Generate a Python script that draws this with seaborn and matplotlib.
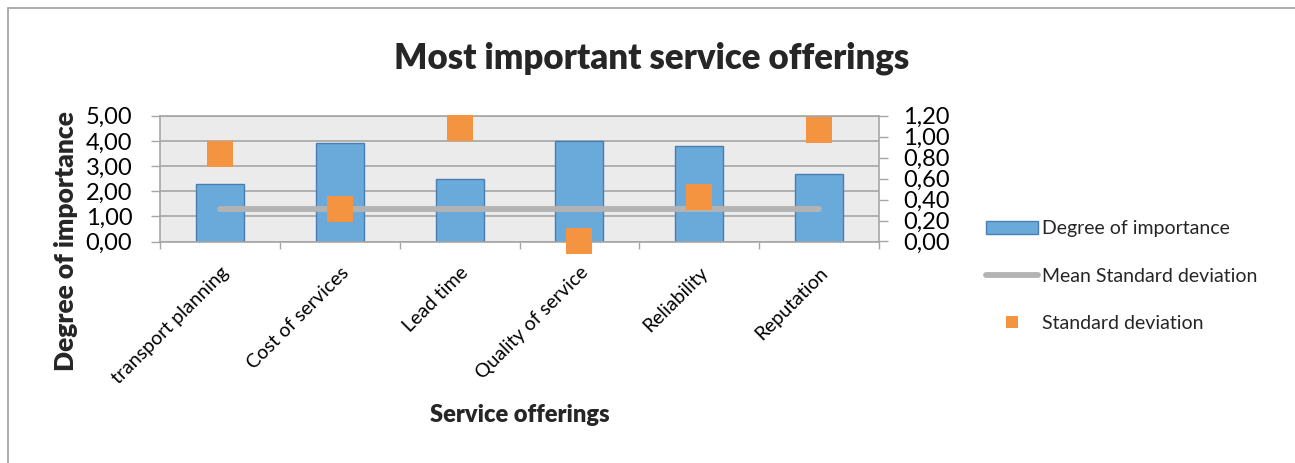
import numpy as np
import pandas as pd
import matplotlib
matplotlib.use("Agg")
import matplotlib.pyplot as plt
from matplotlib.lines import Line2D
from matplotlib.patches import Patch
from matplotlib.ticker import FuncFormatter, FixedLocator
import seaborn as sns

# --- data -------------------------------------------------------------
services = ["transport planning", "Cost of services", "Lead time",
            "Quality of service", "Reliability", "Reputation"]
importance = [2.30, 3.90, 2.50, 4.00, 3.80, 2.70]
std_dev = [0.83, 0.31, 1.08, 0.00, 0.42, 1.06]
mean_std_dev = [0.31, 0.31, 0.31, 0.31, 0.31, 0.31]
left_ticks = [0, 1, 2, 3, 4, 5]
right_ticks = [0.0, 0.2, 0.4, 0.6, 0.8, 1.0, 1.2]

df = pd.DataFrame({"service": services, "importance": importance,
                   "sd": std_dev, "mean_sd": mean_std_dev})
df["pos"] = np.arange(len(df))

# --- style ------------------------------------------------------------
sns.set_style("white")
plt.rcParams["font.family"] = ["Lato", "DejaVu Sans"]

BLUE = "#6aaadb"
BLUE_EDGE = "#4a7eb3"
ORANGE = "#f59440"
GREY_LINE = "#b3b3b3"
GRID = "#a6a6a6"
PANEL = "#ebebeb"

W, H = 1295, 463
fig = plt.figure(figsize=(W / 100, H / 100), dpi=100)
ax = fig.add_axes([160 / W, 1 - 241.5 / H, (879 - 160) / W, (241.5 - 115.7) / H])
ax.set_facecolor(PANEL)

sns.barplot(data=df, x="service", y="importance", ax=ax, color=BLUE,
            saturation=1, width=0.4, edgecolor=BLUE_EDGE, linewidth=1.0,
            zorder=2)
ax.set_xlim(-0.5, len(services) - 0.5)
ax.set_ylim(0, 5)
ax.set_axisbelow(True)
ax.yaxis.set_major_locator(FixedLocator(left_ticks))
ax.grid(axis="y", color=GRID, linewidth=1.2)
ax.grid(axis="x", visible=False)

comma = FuncFormatter(lambda v, p: f"{v:.2f}".replace(".", ","))
ax.yaxis.set_major_formatter(comma)
ax.tick_params(axis="y", which="major", left=True, length=6.5, width=1,
               color=GRID, pad=13.5, labelsize=17, labelcolor="black")

# categories centred between boundary tick marks
ax.set_xticks(df["pos"])
ax.set_xticklabels(services, rotation=45, ha="right", rotation_mode="anchor",
                   fontsize=14)
ax.set_xticks(np.arange(-0.5, len(services)), minor=True)
ax.tick_params(axis="x", which="major", length=0, pad=16, labelcolor="black")
ax.tick_params(axis="x", which="minor", bottom=True, length=5, width=1,
               color=GRID)
ax.set_xlabel("")
ax.set_ylabel("")
for s in ax.spines.values():
    s.set_color(GRID)
    s.set_linewidth(1.2)

# secondary axis: standard deviations
ax2 = ax.twinx()
ax2.set_ylim(0, 1.2)
ax2.yaxis.set_major_locator(FixedLocator(right_ticks))
ax2.yaxis.set_major_formatter(comma)
ax2.tick_params(axis="y", right=True, length=6.5, width=1, color=GRID,
                pad=11, labelsize=17, labelcolor="black")
for s in ax2.spines.values():
    s.set_visible(False)
ax2.grid(False)

sns.lineplot(data=df, x="pos", y="mean_sd", ax=ax2, color=GREY_LINE,
             linewidth=4.2, solid_capstyle="round", legend=False, zorder=3)
sns.scatterplot(data=df, x="pos", y="sd", ax=ax2, marker="s", s=350,
                color=ORANGE, linewidth=0, legend=False, zorder=4,
                clip_on=False)
ax2.set_xlabel("")
ax2.set_ylabel("")
ax2.set_xlim(-0.5, len(services) - 0.5)

# titles
fig.text(652 / W, 1 - 58 / H, "Most important service offerings",
         ha="center", va="center", fontsize=25, fontweight="heavy")
fig.text(520 / W, 1 - 415 / H, "Service offerings",
         ha="center", va="center", fontsize=17, fontweight="heavy")
fig.text(66 / W, 1 - 241 / H, "Degree of importance", rotation=90,
         ha="center", va="center", fontsize=19, fontweight="heavy")

# legend
handles = [
    Patch(facecolor=BLUE, edgecolor=BLUE_EDGE, linewidth=1.0),
    Line2D([], [], color=GREY_LINE, linewidth=4.2, solid_capstyle="round"),
    Line2D([], [], color=ORANGE, marker="s", markersize=9, linestyle="none",
           markeredgewidth=0),
]
labels = ["Degree of importance", "Mean Standard deviation",
          "Standard deviation"]
fig.legend(handles, labels, loc="center left",
           bbox_to_anchor=(978 / W, 1 - 276 / H), frameon=False,
           fontsize=14, handlelength=2.7, handleheight=0.65,
           handletextpad=0.2, labelspacing=1.55, borderaxespad=0)

# chart frame
frame_kw = dict(transform=fig.transFigure, color="#a0a0a0", linewidth=1.2)
fig.add_artist(Line2D([8 / W, 1.0], [1 - 7.5 / H, 1 - 7.5 / H], **frame_kw))
fig.add_artist(Line2D([8 / W, 8 / W], [0.0, 1 - 7.5 / H], **frame_kw))

fig.savefig("out.png", dpi=100)
